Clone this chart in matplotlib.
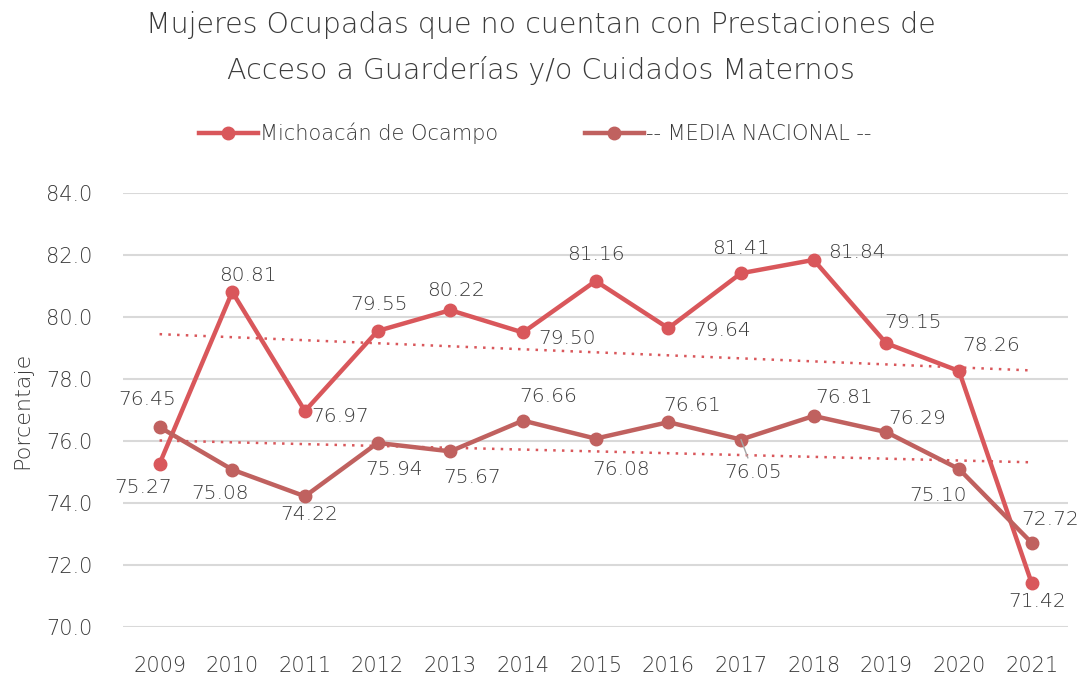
import matplotlib.pyplot as plt
import numpy as np

plt.rcParams['font.family'] = ['DejaVu Sans']
plt.rcParams['font.weight'] = 'light'
plt.rcParams['axes.labelweight'] = 'light'

# Data
years = ['2009', '2010', '2011', '2012', '2013', '2014', '2015',
         '2016', '2017', '2018', '2019', '2020', '2021']
michoacan = [75.27, 80.81, 76.97, 79.55, 80.22, 79.50, 81.16,
             79.64, 81.41, 81.84, 79.15, 78.26, 71.42]
nacional = [76.45, 75.08, 74.22, 75.94, 75.67, 76.66, 76.08,
            76.61, 76.05, 76.81, 76.29, 75.10, 72.72]

# label offsets in points (dx, dy)
mich_offsets = [(-12, -17), (11, 12), (25, -4), (1, 19), (4, 14), (32, -4), (0, 19),
                (39, -2), (0, 18), (31, 5), (19, 15), (23, 18), (4, -13)]
nac_offsets = [(-9, 20), (-9, -17), (3, -13), (12, -19), (16, -19), (18, 17), (18, -22),
               (17, 12), (9, -24), (22, 13), (22, 10), (-15, -19), (13, 17)]

RED = '#D9575B'
DARK = '#C0615F'
GREY = '#3A3A3A'  # darker grey to make up for the thin font

fig = plt.figure(figsize=(10.81, 6.84), dpi=100)
ax = fig.add_axes([0.114, 0.083, 0.874, 0.635])

x = np.arange(len(years))
ax.plot(x, michoacan, color=RED, lw=3.2, marker='o', ms=9, label='Michoacán de Ocampo', zorder=3)
ax.plot(x, nacional, color=DARK, lw=3.2, marker='o', ms=9, label='-- MEDIA NACIONAL --', zorder=3)

# linear trendlines
for vals in (michoacan, nacional):
    m, b = np.polyfit(x, vals, 1)
    ax.plot(x, m * x + b, color=RED, lw=1.8, ls=(0, (1, 2.5)), zorder=2)

for xi, v, off in zip(x, michoacan, mich_offsets):
    ax.annotate(f'{v:.2f}', (xi, v), xytext=off, textcoords='offset points',
                ha='center', va='center', fontsize=14.5, color=GREY, zorder=4)
for i, (xi, v, off) in enumerate(zip(x, nacional, nac_offsets)):
    arrow = dict(arrowstyle='-', color='#A6A6A6', lw=1, shrinkA=2, shrinkB=0) if i == 8 else None
    ax.annotate(f'{v:.2f}', (xi, v), xytext=off, textcoords='offset points',
                ha='center', va='center', fontsize=14.5, color=GREY, zorder=4,
                arrowprops=arrow)

ax.set_xlim(-0.5, len(years) - 0.5)
ax.set_ylim(70, 84)
ax.set_yticks(np.arange(70, 84.1, 2))
ax.set_yticklabels([f'{t:.1f}' for t in np.arange(70, 84.1, 2)])
ax.set_xticks(x)
ax.set_xticklabels(years)
ax.tick_params(length=0, labelsize=15, labelcolor=GREY)
ax.tick_params(axis='x', pad=21)
ax.tick_params(axis='y', pad=22)
ax.grid(axis='y', color='#D9D9D9', lw=1.5)
ax.set_axisbelow(True)
for s in ax.spines.values():
    s.set_visible(False)
ax.set_ylabel('Porcentaje', fontsize=16, color=GREY, labelpad=10)

fig.text(0.5, 0.963, 'Mujeres Ocupadas que no cuentan con Prestaciones de',
         ha='center', va='center', fontsize=20.5, color=GREY)
fig.text(0.5, 0.897, 'Acceso a Guarderías y/o Cuidados Maternos',
         ha='center', va='center', fontsize=20.5, color=GREY)

fig.legend(loc='center', bbox_to_anchor=(0.495, 0.805), ncol=2, frameon=False,
           fontsize=15, labelcolor=GREY, handlelength=2.8, handletextpad=0.1,
           columnspacing=4.2)

fig.savefig('out.png', dpi=100, facecolor='white')
